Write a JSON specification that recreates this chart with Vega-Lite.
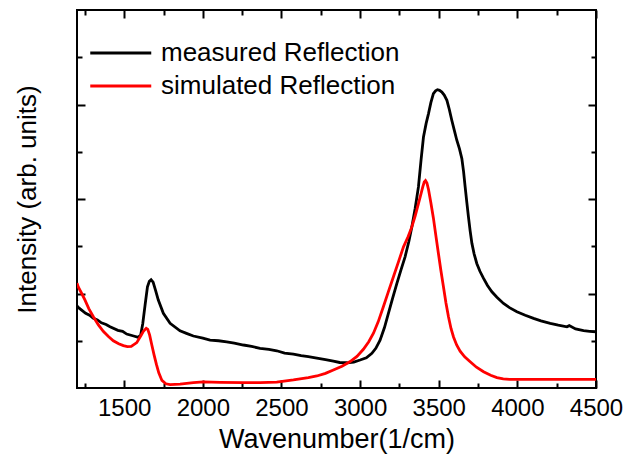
{
  "$schema": "https://vega.github.io/schema/vega-lite/v6.json",
  "width": 519,
  "height": 378,
  "autosize": "none",
  "padding": {"left": 77, "top": 10, "right": 29, "bottom": 68},
  "background": "white",
  "config": {
    "font": "Liberation Sans",
    "view": {"stroke": "black", "strokeWidth": 2},
    "axis": {"domain": false, "grid": false, "tickColor": "black", "tickWidth": 2, "labelColor": "black", "titleColor": "black", "labelFont": "Liberation Sans", "titleFont": "Liberation Sans", "titleFontWeight": "normal"}
  },
  "data": {
    "values": [
      {"series": "measured Reflection", "x": 1200, "y": 0.87},
      {"series": "measured Reflection", "x": 1208, "y": 0.853},
      {"series": "measured Reflection", "x": 1255, "y": 0.79},
      {"series": "measured Reflection", "x": 1280, "y": 0.77},
      {"series": "measured Reflection", "x": 1304, "y": 0.737},
      {"series": "measured Reflection", "x": 1330, "y": 0.72},
      {"series": "measured Reflection", "x": 1355, "y": 0.69},
      {"series": "measured Reflection", "x": 1385, "y": 0.672},
      {"series": "measured Reflection", "x": 1410, "y": 0.648},
      {"series": "measured Reflection", "x": 1460, "y": 0.61},
      {"series": "measured Reflection", "x": 1490, "y": 0.6},
      {"series": "measured Reflection", "x": 1516, "y": 0.571},
      {"series": "measured Reflection", "x": 1560, "y": 0.55},
      {"series": "measured Reflection", "x": 1590, "y": 0.536},
      {"series": "measured Reflection", "x": 1605, "y": 0.56},
      {"series": "measured Reflection", "x": 1618, "y": 0.68},
      {"series": "measured Reflection", "x": 1633, "y": 0.88},
      {"series": "measured Reflection", "x": 1648, "y": 1.07},
      {"series": "measured Reflection", "x": 1660, "y": 1.13},
      {"series": "measured Reflection", "x": 1671, "y": 1.145},
      {"series": "measured Reflection", "x": 1684, "y": 1.12},
      {"series": "measured Reflection", "x": 1700, "y": 1.03},
      {"series": "measured Reflection", "x": 1717, "y": 0.93},
      {"series": "measured Reflection", "x": 1749, "y": 0.79},
      {"series": "measured Reflection", "x": 1792, "y": 0.684},
      {"series": "measured Reflection", "x": 1855, "y": 0.605},
      {"series": "measured Reflection", "x": 1900, "y": 0.575},
      {"series": "measured Reflection", "x": 1940, "y": 0.55},
      {"series": "measured Reflection", "x": 2000, "y": 0.527},
      {"series": "measured Reflection", "x": 2046, "y": 0.507},
      {"series": "measured Reflection", "x": 2100, "y": 0.5},
      {"series": "measured Reflection", "x": 2152, "y": 0.489},
      {"series": "measured Reflection", "x": 2200, "y": 0.475},
      {"series": "measured Reflection", "x": 2258, "y": 0.455},
      {"series": "measured Reflection", "x": 2310, "y": 0.44},
      {"series": "measured Reflection", "x": 2364, "y": 0.42},
      {"series": "measured Reflection", "x": 2420, "y": 0.408},
      {"series": "measured Reflection", "x": 2470, "y": 0.394},
      {"series": "measured Reflection", "x": 2520, "y": 0.37},
      {"series": "measured Reflection", "x": 2576, "y": 0.359},
      {"series": "measured Reflection", "x": 2625, "y": 0.342},
      {"series": "measured Reflection", "x": 2671, "y": 0.331},
      {"series": "measured Reflection", "x": 2725, "y": 0.315},
      {"series": "measured Reflection", "x": 2780, "y": 0.3},
      {"series": "measured Reflection", "x": 2830, "y": 0.285},
      {"series": "measured Reflection", "x": 2870, "y": 0.27},
      {"series": "measured Reflection", "x": 2916, "y": 0.267},
      {"series": "measured Reflection", "x": 2960, "y": 0.275},
      {"series": "measured Reflection", "x": 3000, "y": 0.296},
      {"series": "measured Reflection", "x": 3040, "y": 0.32},
      {"series": "measured Reflection", "x": 3075, "y": 0.367},
      {"series": "measured Reflection", "x": 3100, "y": 0.42},
      {"series": "measured Reflection", "x": 3127, "y": 0.507},
      {"series": "measured Reflection", "x": 3155, "y": 0.64},
      {"series": "measured Reflection", "x": 3180, "y": 0.79},
      {"series": "measured Reflection", "x": 3207, "y": 0.95},
      {"series": "measured Reflection", "x": 3234, "y": 1.107},
      {"series": "measured Reflection", "x": 3260, "y": 1.25},
      {"series": "measured Reflection", "x": 3286, "y": 1.388},
      {"series": "measured Reflection", "x": 3310, "y": 1.55},
      {"series": "measured Reflection", "x": 3329, "y": 1.705},
      {"series": "measured Reflection", "x": 3350, "y": 1.9},
      {"series": "measured Reflection", "x": 3371, "y": 2.128},
      {"series": "measured Reflection", "x": 3388, "y": 2.42},
      {"series": "measured Reflection", "x": 3403, "y": 2.656},
      {"series": "measured Reflection", "x": 3420, "y": 2.8},
      {"series": "measured Reflection", "x": 3435, "y": 2.904},
      {"series": "measured Reflection", "x": 3450, "y": 3.02},
      {"series": "measured Reflection", "x": 3466, "y": 3.115},
      {"series": "measured Reflection", "x": 3480, "y": 3.145},
      {"series": "measured Reflection", "x": 3492, "y": 3.157},
      {"series": "measured Reflection", "x": 3505, "y": 3.15},
      {"series": "measured Reflection", "x": 3520, "y": 3.132},
      {"series": "measured Reflection", "x": 3535, "y": 3.1},
      {"series": "measured Reflection", "x": 3552, "y": 3.044},
      {"series": "measured Reflection", "x": 3567, "y": 2.95},
      {"series": "measured Reflection", "x": 3583, "y": 2.833},
      {"series": "measured Reflection", "x": 3600, "y": 2.72},
      {"series": "measured Reflection", "x": 3615, "y": 2.622},
      {"series": "measured Reflection", "x": 3632, "y": 2.53},
      {"series": "measured Reflection", "x": 3647, "y": 2.428},
      {"series": "measured Reflection", "x": 3658, "y": 2.29},
      {"series": "measured Reflection", "x": 3668, "y": 2.128},
      {"series": "measured Reflection", "x": 3679, "y": 1.96},
      {"series": "measured Reflection", "x": 3689, "y": 1.811},
      {"series": "measured Reflection", "x": 3700, "y": 1.66},
      {"series": "measured Reflection", "x": 3711, "y": 1.53},
      {"series": "measured Reflection", "x": 3725, "y": 1.42},
      {"series": "measured Reflection", "x": 3742, "y": 1.318},
      {"series": "measured Reflection", "x": 3762, "y": 1.235},
      {"series": "measured Reflection", "x": 3785, "y": 1.16},
      {"series": "measured Reflection", "x": 3810, "y": 1.085},
      {"series": "measured Reflection", "x": 3838, "y": 1.018},
      {"series": "measured Reflection", "x": 3870, "y": 0.96},
      {"series": "measured Reflection", "x": 3912, "y": 0.895},
      {"series": "measured Reflection", "x": 3950, "y": 0.85},
      {"series": "measured Reflection", "x": 3997, "y": 0.807},
      {"series": "measured Reflection", "x": 4050, "y": 0.77},
      {"series": "measured Reflection", "x": 4103, "y": 0.737},
      {"series": "measured Reflection", "x": 4150, "y": 0.71},
      {"series": "measured Reflection", "x": 4209, "y": 0.684},
      {"series": "measured Reflection", "x": 4260, "y": 0.665},
      {"series": "measured Reflection", "x": 4315, "y": 0.648},
      {"series": "measured Reflection", "x": 4330, "y": 0.66},
      {"series": "measured Reflection", "x": 4370, "y": 0.625},
      {"series": "measured Reflection", "x": 4421, "y": 0.606},
      {"series": "measured Reflection", "x": 4460, "y": 0.6},
      {"series": "measured Reflection", "x": 4500, "y": 0.595},
      {"series": "simulated Reflection", "x": 1200, "y": 1.11},
      {"series": "simulated Reflection", "x": 1208, "y": 1.07},
      {"series": "simulated Reflection", "x": 1230, "y": 1.0},
      {"series": "simulated Reflection", "x": 1251, "y": 0.93},
      {"series": "simulated Reflection", "x": 1275, "y": 0.84},
      {"series": "simulated Reflection", "x": 1304, "y": 0.754},
      {"series": "simulated Reflection", "x": 1335, "y": 0.67},
      {"series": "simulated Reflection", "x": 1367, "y": 0.6},
      {"series": "simulated Reflection", "x": 1400, "y": 0.545},
      {"series": "simulated Reflection", "x": 1431, "y": 0.5},
      {"series": "simulated Reflection", "x": 1465, "y": 0.468},
      {"series": "simulated Reflection", "x": 1495, "y": 0.448},
      {"series": "simulated Reflection", "x": 1520, "y": 0.438},
      {"series": "simulated Reflection", "x": 1545, "y": 0.44},
      {"series": "simulated Reflection", "x": 1580, "y": 0.48},
      {"series": "simulated Reflection", "x": 1605, "y": 0.55},
      {"series": "simulated Reflection", "x": 1622, "y": 0.6},
      {"series": "simulated Reflection", "x": 1640, "y": 0.632},
      {"series": "simulated Reflection", "x": 1650, "y": 0.62},
      {"series": "simulated Reflection", "x": 1662, "y": 0.56},
      {"series": "simulated Reflection", "x": 1675, "y": 0.46},
      {"series": "simulated Reflection", "x": 1690, "y": 0.35},
      {"series": "simulated Reflection", "x": 1705, "y": 0.25},
      {"series": "simulated Reflection", "x": 1720, "y": 0.16},
      {"series": "simulated Reflection", "x": 1740, "y": 0.08},
      {"series": "simulated Reflection", "x": 1765, "y": 0.045},
      {"series": "simulated Reflection", "x": 1792, "y": 0.035},
      {"series": "simulated Reflection", "x": 1855, "y": 0.042},
      {"series": "simulated Reflection", "x": 1940, "y": 0.056},
      {"series": "simulated Reflection", "x": 2003, "y": 0.065},
      {"series": "simulated Reflection", "x": 2110, "y": 0.06},
      {"series": "simulated Reflection", "x": 2258, "y": 0.056},
      {"series": "simulated Reflection", "x": 2364, "y": 0.056},
      {"series": "simulated Reflection", "x": 2470, "y": 0.062},
      {"series": "simulated Reflection", "x": 2576, "y": 0.085},
      {"series": "simulated Reflection", "x": 2671, "y": 0.11},
      {"series": "simulated Reflection", "x": 2725, "y": 0.127},
      {"series": "simulated Reflection", "x": 2780, "y": 0.155},
      {"series": "simulated Reflection", "x": 2830, "y": 0.19},
      {"series": "simulated Reflection", "x": 2885, "y": 0.23},
      {"series": "simulated Reflection", "x": 2937, "y": 0.28},
      {"series": "simulated Reflection", "x": 2980, "y": 0.335},
      {"series": "simulated Reflection", "x": 3021, "y": 0.41},
      {"series": "simulated Reflection", "x": 3055, "y": 0.49},
      {"series": "simulated Reflection", "x": 3085, "y": 0.58},
      {"series": "simulated Reflection", "x": 3115, "y": 0.7},
      {"series": "simulated Reflection", "x": 3148, "y": 0.86},
      {"series": "simulated Reflection", "x": 3180, "y": 1.02},
      {"series": "simulated Reflection", "x": 3212, "y": 1.177},
      {"series": "simulated Reflection", "x": 3245, "y": 1.34},
      {"series": "simulated Reflection", "x": 3276, "y": 1.494},
      {"series": "simulated Reflection", "x": 3305, "y": 1.6},
      {"series": "simulated Reflection", "x": 3329, "y": 1.705},
      {"series": "simulated Reflection", "x": 3350, "y": 1.82},
      {"series": "simulated Reflection", "x": 3371, "y": 1.952},
      {"series": "simulated Reflection", "x": 3388, "y": 2.06},
      {"series": "simulated Reflection", "x": 3399, "y": 2.13},
      {"series": "simulated Reflection", "x": 3408, "y": 2.18},
      {"series": "simulated Reflection", "x": 3416, "y": 2.195},
      {"series": "simulated Reflection", "x": 3425, "y": 2.17},
      {"series": "simulated Reflection", "x": 3435, "y": 2.1},
      {"series": "simulated Reflection", "x": 3450, "y": 1.96},
      {"series": "simulated Reflection", "x": 3466, "y": 1.8},
      {"series": "simulated Reflection", "x": 3482, "y": 1.61},
      {"series": "simulated Reflection", "x": 3498, "y": 1.424},
      {"series": "simulated Reflection", "x": 3514, "y": 1.24},
      {"series": "simulated Reflection", "x": 3530, "y": 1.071},
      {"series": "simulated Reflection", "x": 3546, "y": 0.9},
      {"series": "simulated Reflection", "x": 3562, "y": 0.754},
      {"series": "simulated Reflection", "x": 3578, "y": 0.63},
      {"series": "simulated Reflection", "x": 3594, "y": 0.54},
      {"series": "simulated Reflection", "x": 3614, "y": 0.455},
      {"series": "simulated Reflection", "x": 3636, "y": 0.39},
      {"series": "simulated Reflection", "x": 3665, "y": 0.33},
      {"series": "simulated Reflection", "x": 3700, "y": 0.278},
      {"series": "simulated Reflection", "x": 3740, "y": 0.22},
      {"series": "simulated Reflection", "x": 3785, "y": 0.172},
      {"series": "simulated Reflection", "x": 3830, "y": 0.135},
      {"series": "simulated Reflection", "x": 3870, "y": 0.11},
      {"series": "simulated Reflection", "x": 3910, "y": 0.096},
      {"series": "simulated Reflection", "x": 3950, "y": 0.092},
      {"series": "simulated Reflection", "x": 4209, "y": 0.092},
      {"series": "simulated Reflection", "x": 4500, "y": 0.092}
    ]
  },
  "encoding": {
    "color": {
      "field": "series", "type": "nominal",
      "scale": {"domain": ["measured Reflection", "simulated Reflection"], "range": ["black", "red"]},
      "legend": {"title": null, "orient": "none", "legendX": 42, "legendY": 26, "padding": 0, "symbolType": "M-3,0H1", "symbolSize": 930, "symbolStrokeWidth": 3, "symbolFillColor": "transparent", "labelFontSize": 26, "labelOffset": 8, "labelColor": "black", "rowPadding": 3, "labelLimit": 0, "labelFont": "Liberation Sans"}
    }
  },
  "layer": [
    {
      "transform": [{"filter": "datum.series === 'measured Reflection'"}],
      "mark": {"type": "line", "strokeWidth": 2.8, "clip": true},
      "encoding": {
        "x": {"field": "x", "type": "quantitative", "scale": {"domain": [1200, 4500], "nice": false, "zero": false},
          "axis": {"orient": "bottom", "title": "Wavenumber(1/cm)", "titleFontSize": 27, "labelFontSize": 24, "values": [1250, 1500, 1750, 2000, 2250, 2500, 2750, 3000, 3250, 3500, 3750, 4000, 4250, 4500],
            "labelExpr": "datum.value % 500 === 0 ? datum.label : ''", "format": "d", "labelFlush": false, "labelOverlap": false,
            "tickSize": {"condition": {"test": "datum.value % 500 === 0", "value": -8}, "value": -5}, "labelPadding": 16, "titlePadding": 3}},
        "y": {"field": "y", "type": "quantitative", "scale": {"domain": [0, 4], "nice": false, "zero": false},
          "axis": {"orient": "left", "title": "Intensity (arb. units)", "titleFontSize": 26, "values": [0.5, 1, 1.5, 2, 2.5, 3, 3.5], "labels": false,
            "tickSize": {"condition": {"test": "datum.value % 1 === 0", "value": -8}, "value": -5}, "titlePadding": 36}}
      }
    },
    {
      "transform": [{"filter": "datum.series === 'simulated Reflection'"}],
      "mark": {"type": "line", "strokeWidth": 2.8, "clip": true},
      "encoding": {
        "x": {"field": "x", "type": "quantitative",
          "axis": {"orient": "top", "title": null, "labels": false, "values": [1250, 1500, 1750, 2000, 2250, 2500, 2750, 3000, 3250, 3500, 3750, 4000, 4250, 4500],
            "tickSize": {"condition": {"test": "datum.value % 500 === 0", "value": -8}, "value": -5}}},
        "y": {"field": "y", "type": "quantitative",
          "axis": {"orient": "right", "title": null, "labels": false, "values": [0.5, 1, 1.5, 2, 2.5, 3, 3.5],
            "tickSize": {"condition": {"test": "datum.value % 1 === 0", "value": -8}, "value": -5}}}
      }
    }
  ],
  "resolve": {"axis": {"x": "independent", "y": "independent"}}
}
